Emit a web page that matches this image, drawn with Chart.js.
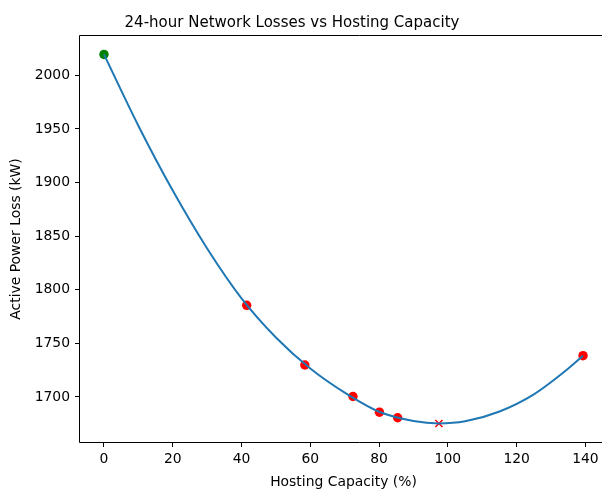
<!DOCTYPE html>
<html lang="en">
<head>
  <meta charset="UTF-8">
  <title>24-hour Network Losses vs Hosting Capacity</title>
  <script src="https://cdn.jsdelivr.net/npm/chart.js"></script>
  <style>
    html, body {
      margin: 0;
      padding: 0;
      background-color: #ffffff;
      overflow: hidden;
    }

    .wrap {
      position: relative;
      width: 640px;
      height: 492px;
    }

    .chart-title {
      position: absolute;
      top: 13px;
      left: 0;
      width: 584px;
      text-align: center;
      font-family: 'DejaVu Sans', sans-serif;
      font-size: 15px;
      color: #000;
    }
  </style>
</head>
<body>
  <div class="wrap">
    <canvas id="chart" width="640" height="492"></canvas>
    <div class="chart-title">24-hour Network Losses vs Hosting Capacity</div>
  </div>

  <script>
    const xTicks = [0, 20, 40, 60, 80, 100, 120, 140];
    const yTicks = [1700, 1750, 1800, 1850, 1900, 1950, 2000];

    // fitted curve
    const fitX = [0, 10, 20, 30, 40, 50, 60, 70, 80, 90, 97.4, 105, 115, 125, 135, 139.3];
    const fitY = [2019.5, 1953, 1892.5, 1838.5, 1792, 1755.5, 1726.5, 1704, 1686.2, 1677.6, 1675.3, 1677.3, 1686.5, 1702.5, 1726.5, 1738.5];

    // base case (no PV)
    const baseX = [0];
    const baseY = [2019.5];

    // simulated hosting capacity cases
    const caseX = [41.5, 58.4, 72.4, 80.1, 85.4, 139.3];
    const caseY = [1785.5, 1729.8, 1700.4, 1685.8, 1680.6, 1738.5];

    // minimum of the fit
    const minX = [97.4];
    const minY = [1675.3];

    const pts = (xs, ys) => xs.map((x, i) => ({ x: x, y: ys[i] }));

    const font = { family: "'DejaVu Sans', sans-serif", size: 13.9 };

    // axes spines (right one falls outside the visible window)
    const frame = {
      id: 'frame',
      afterDatasetsDraw(chart) {
        const { ctx, chartArea: a, width } = chart;
        const l = Math.round(a.left) - 0.5;
        const t = Math.round(a.top) - 0.5;
        const b = Math.round(a.bottom) + 0.5;
        ctx.save();
        ctx.strokeStyle = '#000';
        ctx.lineWidth = 1;
        ctx.beginPath();
        ctx.moveTo(width, t);
        ctx.lineTo(l, t);
        ctx.lineTo(l, b);
        ctx.lineTo(width, b);
        ctx.stroke();
        ctx.restore();
      }
    };

    const ctx = document.getElementById('chart').getContext('2d');

    new Chart(ctx, {
      type: 'scatter',
      data: {
        datasets: [
          {
            label: 'Fit',
            data: pts(fitX, fitY),
            showLine: true,
            borderColor: '#1f77b4',
            borderWidth: 2,
            pointRadius: 0,
            cubicInterpolationMode: 'monotone',
            order: 0
          },
          {
            label: 'Base',
            data: pts(baseX, baseY),
            backgroundColor: '#008000',
            borderColor: '#008000',
            pointRadius: 4.7,
            borderWidth: 0,
            order: 1
          },
          {
            label: 'Cases',
            data: pts(caseX, caseY),
            backgroundColor: '#ff0000',
            borderColor: '#ff0000',
            pointRadius: 4.7,
            borderWidth: 0,
            order: 1
          },
          {
            label: 'Minimum',
            data: pts(minX, minY),
            pointStyle: 'crossRot',
            borderColor: '#ff0000',
            backgroundColor: '#ff0000',
            pointRadius: 5,
            borderWidth: 1.5,
            order: 1
          }
        ]
      },
      options: {
        responsive: false,
        animation: false,
        layout: {
          padding: { top: 36, left: 0, right: 33, bottom: 0 }
        },
        plugins: {
          legend: { display: false },
          tooltip: { enabled: false },
          title: { display: false }
        },
        scales: {
          x: {
            type: 'linear',
            min: -6.97,
            max: 146.27,
            afterBuildTicks: s => { s.ticks = xTicks.map(v => ({ value: v })); },
            afterFit: s => { s.height = 50; },
            grid: {
              display: true,
              drawOnChartArea: false,
              drawTicks: true,
              tickLength: 5,
              color: '#000',
              lineWidth: 1
            },
            border: { display: false },
            ticks: {
              color: '#000',
              padding: 4,
              font: font,
              maxRotation: 0,
              autoSkip: false,
              callback: v => String(v)
            },
            title: {
              display: true,
              text: 'Hosting Capacity (%)',
              color: '#000',
              font: font,
              padding: { top: 0, bottom: 1 }
            }
          },
          y: {
            type: 'linear',
            min: 1658,
            max: 2036.7,
            afterBuildTicks: s => { s.ticks = yTicks.map(v => ({ value: v })); },
            afterFit: s => { s.width = 80; },
            grid: {
              display: true,
              drawOnChartArea: false,
              drawTicks: true,
              tickLength: 5,
              color: '#000',
              lineWidth: 1
            },
            border: { display: false },
            ticks: {
              color: '#000',
              padding: 5,
              font: font,
              autoSkip: false,
              callback: v => String(v)
            },
            title: {
              display: true,
              text: 'Active Power Loss (kW)',
              color: '#000',
              font: font,
              padding: { top: 8, bottom: 0 }
            }
          }
        }
      },
      plugins: [frame]
    });
  </script>
</body>
</html>
